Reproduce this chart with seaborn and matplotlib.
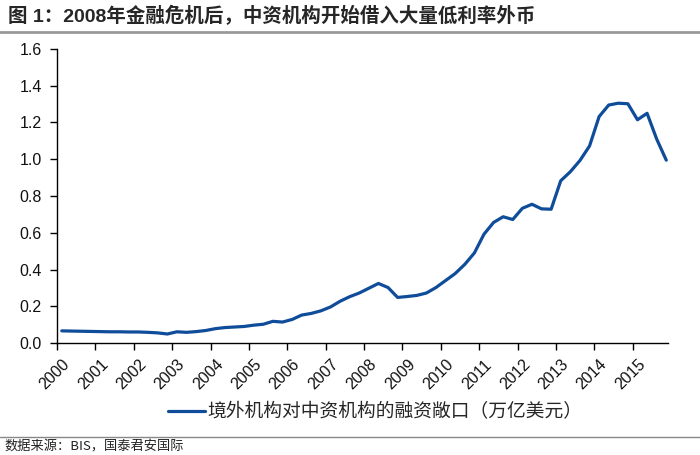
import matplotlib
matplotlib.use('Agg')
import matplotlib.pyplot as plt
import matplotlib.transforms as mtrans
import seaborn as sb
import pandas as pd
from matplotlib.lines import Line2D

# quarterly exposure, trillion USD, 2000Q1 .. 2015Q4
years = list(range(2000, 2016))
quarters = [y + (q + 0.5) / 4 for y in years for q in range(4)]
exposure = [
    0.066, 0.065, 0.064, 0.063,
    0.062, 0.061, 0.061, 0.060,
    0.060, 0.058, 0.055, 0.049,
    0.061, 0.058, 0.062, 0.068,
    0.078, 0.084, 0.087, 0.090,
    0.097, 0.102, 0.118, 0.114,
    0.128, 0.152, 0.161, 0.175,
    0.196, 0.227, 0.252, 0.272,
    0.298, 0.324, 0.302, 0.248,
    0.253, 0.259, 0.272, 0.302,
    0.340, 0.378, 0.428, 0.490,
    0.592, 0.656, 0.687, 0.672,
    0.733, 0.755, 0.730, 0.728,
    0.883, 0.932, 0.993, 1.072,
    1.232, 1.295, 1.305, 1.302,
    1.215, 1.250, 1.110, 0.995,
]
series_name = '境外机构对中资机构的融资敞口（万亿美元）'
title = '图 1：2008年金融危机后，中资机构开始借入大量低利率外币'
source = '数据来源：BIS，国泰君安国际'

df = pd.DataFrame({'t': quarters, 'v': exposure})

sb.set_style('ticks')
plt.rcParams['font.family'] = ['Liberation Sans', 'Noto Sans CJK SC', 'DejaVu Sans']

blue = '#0F4C9A'
fig = plt.figure(figsize=(7, 4.55), dpi=100)
ax = fig.add_axes([57 / 700, 1 - 343 / 455, 611 / 700, 294 / 455])

sb.lineplot(data=df, x='t', y='v', ax=ax, color=blue, linewidth=2.3)

ax.set(xlim=(2000, 2015.92), ylim=(0, 1.6), xlabel='', ylabel='')
ax.set_yticks([i * 0.2 for i in range(9)])
ax.set_yticklabels([f'{i * 0.2:.1f}' for i in range(9)])
ax.set_xticks(years)
ax.set_xticklabels([str(y) for y in years], rotation=45, ha='right',
                   rotation_mode='anchor')
ax.tick_params(axis='both', labelsize=11.5, length=5, width=1, color='black',
               labelcolor='#111111')
ax.tick_params(axis='y', pad=6)
ax.tick_params(axis='x', pad=5)
shift = mtrans.ScaledTranslation(5 / 100, 0, fig.dpi_scale_trans)
for lab in ax.get_xticklabels():
    lab.set_transform(lab.get_transform() + shift)
sb.despine(ax=ax)
for s in ('left', 'bottom'):
    ax.spines[s].set_color('black')
    ax.spines[s].set_linewidth(1)

handle = Line2D([], [], color=blue, linewidth=2.3)
fig.legend([handle], [series_name], loc='center', bbox_to_anchor=(0.536, 1 - 412 / 455),
           frameon=False, handlelength=2.0, handletextpad=0.15,
           prop={'family': ['Noto Sans CJK SC'], 'size': 13.5})

fig.text(8 / 700, 1 - 16 / 455, title, fontsize=14, fontweight='bold',
         va='center', ha='left', family=['Liberation Sans', 'Noto Sans CJK SC'])
fig.add_artist(Line2D([0, 1], [1 - 32 / 455] * 2, color='#999999', linewidth=2))
fig.add_artist(Line2D([0, 1], [1 - 437 / 455] * 2, color='#888888', linewidth=1))
fig.text(4 / 700, 1 - 447 / 455, source, fontsize=9.5, style='italic',
         va='center', ha='left', color='#222222',
         family=['Noto Sans CJK SC', 'DejaVu Sans'])

fig.savefig('out.png', dpi=100)
